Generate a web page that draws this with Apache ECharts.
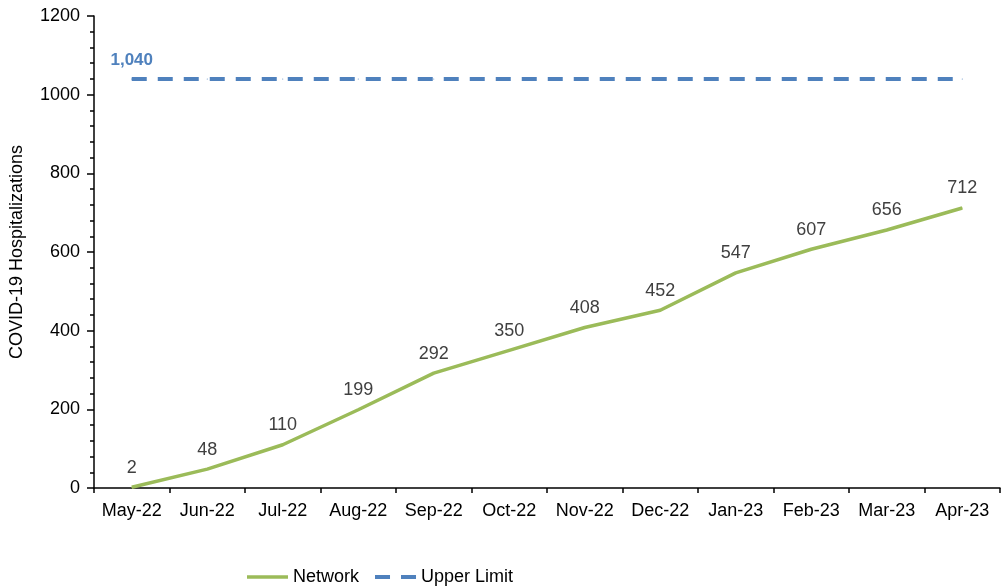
<!DOCTYPE html>
<html>
<head>
<meta charset="utf-8">
<script src="https://cdn.jsdelivr.net/npm/echarts@6/dist/echarts.min.js"></script>
<style>html,body{margin:0;padding:0;background:#fff}#c{width:1002px;height:588px}</style>
</head>
<body>
<div id="c"></div>
<script>
const categories = ['May-22','Jun-22','Jul-22','Aug-22','Sep-22','Oct-22','Nov-22','Dec-22','Jan-23','Feb-23','Mar-23','Apr-23'];
const networkValues = [2, 48, 110, 199, 292, 350, 408, 452, 547, 607, 656, 712];
const upperLimitValues = [1040, 1040, 1040, 1040, 1040, 1040, 1040, 1040, 1040, 1040, 1040, 1040];
const yTicks = {min: 0, max: 1200, interval: 200};

const font = 'Liberation Sans, Arial, sans-serif';
const chart = echarts.init(document.getElementById('c'), null, {renderer: 'canvas'});
chart.setOption({
  animation: false,
  textStyle: {fontFamily: font},
  grid: {left: 94, right: 2, top: 16, bottom: 100, containLabel: false},
  legend: {
    left: 242, top: 563,
    itemWidth: 41, itemHeight: 4, itemGap: 16,
    textStyle: {fontFamily: font, fontSize: 18, color: '#000', padding: [0, 0, 0, 0]},
    data: [
      {name: 'Network', icon: 'path://M0,0H41V3.5H0Z', itemStyle: {color: '#9BBB59'}},
      {name: 'Upper Limit', icon: 'path://M0,0H15V4H0ZM26,0H41V4H26Z', itemStyle: {color: '#4F81BD'}}
    ]
  },
  xAxis: {
    type: 'category', data: categories, boundaryGap: true,
    axisLine: {lineStyle: {color: '#000', width: 1.5}},
    axisTick: {show: true, length: 5, inside: false, lineStyle: {color: '#000', width: 1.5}},
    axisLabel: {color: '#000', fontSize: 18, fontFamily: font, margin: 14, interval: 0}
  },
  yAxis: {
    type: 'value', min: yTicks.min, max: yTicks.max, interval: yTicks.interval,
    name: 'COVID-19 Hospitalizations', nameLocation: 'middle', nameGap: 68, nameRotate: 90,
    nameTextStyle: {color: '#000', fontSize: 18, fontFamily: font},
    axisLine: {show: true, lineStyle: {color: '#000', width: 1.5}},
    axisTick: {show: true, length: 7, lineStyle: {color: '#000', width: 1.5}},
    minorTick: {show: true, splitNumber: 5, length: 4, lineStyle: {color: '#000', width: 1.5}},
    splitLine: {show: false},
    axisLabel: {color: '#000', fontSize: 18, fontFamily: font, margin: 14, formatter: v => String(v)}
  },
  series: [
    {
      name: 'Network', type: 'line', data: networkValues,
      symbol: 'circle', symbolSize: 1, showSymbol: true,
      itemStyle: {color: '#9BBB59'},
      lineStyle: {color: '#9BBB59', width: 3.5},
      label: {show: true, position: 'top', distance: 10, color: '#404040', fontSize: 18, fontFamily: font}
    },
    {
      name: 'Upper Limit', type: 'line',
      data: upperLimitValues.map((v, i) => i === 0 ? {value: v, label: {show: true}} : v),
      symbol: 'circle', symbolSize: 1, showSymbol: true,
      itemStyle: {color: '#4F81BD'},
      lineStyle: {color: '#4F81BD', width: 4, type: [15, 11]},
      label: {show: false, position: 'top', distance: 10, color: '#4F81BD', fontWeight: 'bold', fontSize: 17, fontFamily: font,
        formatter: p => p.value.toLocaleString('en-US')}
    }
  ]
});
</script>
</body>
</html>
